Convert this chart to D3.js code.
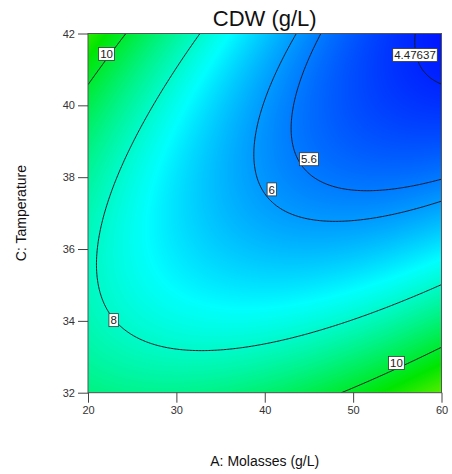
<!DOCTYPE html>
<html>
<head>
<meta charset="utf-8">
<script src="https://cdn.jsdelivr.net/npm/d3@7"></script>
<style>
  html, body { margin: 0; padding: 0; background: #fff; }
  svg { display: block; font-family: Arial, "Liberation Sans", sans-serif; }
</style>
</head>
<body>
<div id="chart"></div>
<script>
// Fitted response surface for CDW (g/L) in coded factors:
// a = (A - 40) / 20 (Molasses), c = (C - 37) / 5 (Temperature)
const modelTerms = ["Intercept", "A", "C", "AC", "A^2", "C^2"];
const modelCoefficients = [6.12, -1.03, -1.30, -2.42, 1.15, 1.76];

// Contour levels and where each level carries its label
const contourLevels = [4.47637, 5.6, 6, 8, 10];
const labelText = ["4.47637", "5.6", "6", "8", "10", "10"];
const labelA = [57.0, 45.0, 40.8, 22.9, 22.1, 54.9];
const labelC = [41.4, 38.5, 37.66, 34.02, 41.43, 32.83];

// Axis ticks
const xTicks = [20, 30, 40, 50, 60];
const yTicks = [32, 34, 36, 38, 40, 42];

// Colour ramp for the shaded surface
const rampValues = [4.0, 7.3, 10.6, 13.9];
const rampColors = ["#0000ff", "#00ffff", "#00e600", "#ffff00"];

const W = 452, H = 474;
const plot = { left: 88, right: 441.5, top: 33.5, bottom: 392.7 };

const x = d3.scaleLinear().domain([20, 60]).range([plot.left, plot.right]);
const y = d3.scaleLinear().domain([32, 42]).range([plot.bottom, plot.top]);
const color = d3.scaleLinear().domain(rampValues).range(rampColors)
  .interpolate(d3.interpolateRgb).clamp(true);

function cdw(A, C) {
  const a = (A - 40) / 20, c = (C - 37) / 5;
  const b = modelCoefficients;
  return b[0] + b[1] * a + b[2] * c + b[3] * a * c + b[4] * a * a + b[5] * c * c;
}

const svg = d3.select("#chart").append("svg").attr("width", W).attr("height", H);

// Shaded surface, one canvas pixel per screen pixel
const pw = Math.round(plot.right - plot.left), ph = Math.round(plot.bottom - plot.top);
const canvas = document.createElement("canvas");
canvas.width = pw; canvas.height = ph;
const ctx = canvas.getContext("2d");
const img = ctx.createImageData(pw, ph);
for (let j = 0; j < ph; j++) {
  const C = y.invert(plot.top + (j + 0.5) * (plot.bottom - plot.top) / ph);
  for (let i = 0; i < pw; i++) {
    const A = x.invert(plot.left + (i + 0.5) * (plot.right - plot.left) / pw);
    const col = d3.rgb(color(cdw(A, C)));
    const k = (j * pw + i) * 4;
    img.data[k] = col.r; img.data[k + 1] = col.g; img.data[k + 2] = col.b; img.data[k + 3] = 255;
  }
}
ctx.putImageData(img, 0, 0);

svg.append("defs").append("clipPath").attr("id", "plotClip")
  .append("rect")
  .attr("x", plot.left).attr("y", plot.top)
  .attr("width", plot.right - plot.left).attr("height", plot.bottom - plot.top);

svg.append("image")
  .attr("x", plot.left).attr("y", plot.top)
  .attr("width", plot.right - plot.left).attr("height", plot.bottom - plot.top)
  .attr("preserveAspectRatio", "none")
  .attr("href", canvas.toDataURL());

// Contour lines from a fine grid of model values
const n = 241, m = 241;
const gridA = d3.range(n).map(i => 20 + i * 40 / (n - 1));
const gridC = d3.range(m).map(j => 32 + j * 10 / (m - 1));
const values = new Float64Array(n * m);
for (let j = 0; j < m; j++) for (let i = 0; i < n; i++) values[j * n + i] = cdw(gridA[i], gridC[j]);

const contours = d3.contours().size([n, m]).thresholds(contourLevels)(values);
const gx = d3.scaleLinear().domain([0.5, n - 0.5]).range([x(20), x(60)]);
const gy = d3.scaleLinear().domain([0.5, m - 0.5]).range([y(32), y(42)]);
const path = d3.geoPath(d3.geoTransform({
  point(px, py) { this.stream.point(gx(px), gy(py)); }
}));

svg.append("g").attr("clip-path", "url(#plotClip)")
  .selectAll("path").data(contours).join("path")
  .attr("d", path)
  .attr("fill", "none")
  .attr("stroke", "#1a1a2a")
  .attr("stroke-width", 1);

// Frame
svg.append("rect")
  .attr("x", plot.left).attr("y", plot.top)
  .attr("width", plot.right - plot.left).attr("height", plot.bottom - plot.top)
  .attr("fill", "none").attr("stroke", "#555").attr("stroke-width", 1);

// Contour labels
const labels = svg.append("g").selectAll("g").data(labelText).join("g")
  .attr("transform", (d, i) => `translate(${x(labelA[i])},${y(labelC[i])})`);
labels.append("text")
  .attr("text-anchor", "middle").attr("dy", "0.36em")
  .attr("font-size", 11.5).attr("fill", "#222")
  .text(d => d);
labels.each(function () {
  const g = d3.select(this);
  const bb = g.select("text").node().getBBox();
  g.insert("rect", "text")
    .attr("x", bb.x - 1.5).attr("y", -6.5)
    .attr("width", bb.width + 3).attr("height", 13)
    .attr("fill", "#fff").attr("stroke", "#333").attr("stroke-width", 0.8);
});

// Axes
const xAxis = svg.append("g").attr("transform", `translate(0,${plot.bottom})`)
  .call(d3.axisBottom(x).tickValues(xTicks).tickSize(10).tickPadding(4).tickFormat(d3.format("d")));
const yAxis = svg.append("g").attr("transform", `translate(${plot.left},0)`)
  .call(d3.axisLeft(y).tickValues(yTicks).tickSize(10).tickPadding(3).tickFormat(d3.format("d")));
[xAxis, yAxis].forEach(ax => {
  ax.select(".domain").remove();
  ax.selectAll(".tick line").attr("stroke", "#444");
  ax.selectAll(".tick text").attr("font-size", 11).attr("fill", "#333")
    .attr("font-family", "Arial, 'Liberation Sans', sans-serif");
});

// Titles
svg.append("text")
  .attr("x", (plot.left + plot.right) / 2).attr("y", 26)
  .attr("text-anchor", "middle").attr("font-size", 22).attr("fill", "#111")
  .text("CDW (g/L)");
svg.append("text")
  .attr("x", (plot.left + plot.right) / 2).attr("y", 466)
  .attr("text-anchor", "middle").attr("font-size", 14).attr("fill", "#111")
  .text("A: Molasses (g/L)");
svg.append("text")
  .attr("transform", `translate(26,${(plot.top + plot.bottom) / 2}) rotate(-90)`)
  .attr("text-anchor", "middle").attr("font-size", 14).attr("fill", "#111")
  .text("C: Tamperature");
</script>
</body>
</html>
